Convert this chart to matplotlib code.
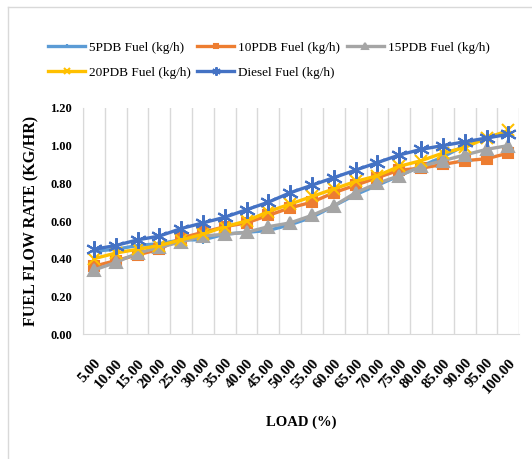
import numpy as np
import matplotlib
matplotlib.use("Agg")
import matplotlib.pyplot as plt
from matplotlib.lines import Line2D

# load categories (%)
load = [5, 10, 15, 20, 25, 30, 35, 40, 45, 50, 55, 60, 65, 70, 75, 80, 85, 90, 95, 100]
load_labels = [f"{v:.2f}" for v in load]

# fuel flow rate (kg/h)
pdb5 = [0.44, 0.45, 0.47, 0.48, 0.50, 0.50, 0.53, 0.54, 0.55, 0.58,
        0.62, 0.68, 0.74, 0.79, 0.84, 0.89, 0.94, 1.00, 1.04, 1.07]
pdb10 = [0.36, 0.39, 0.42, 0.45, 0.51, 0.54, 0.57, 0.59, 0.63, 0.67,
         0.70, 0.75, 0.79, 0.83, 0.87, 0.88, 0.90, 0.92, 0.93, 0.96]
pdb15 = [0.34, 0.38, 0.43, 0.46, 0.49, 0.52, 0.53, 0.54, 0.57, 0.59,
         0.63, 0.68, 0.75, 0.80, 0.84, 0.89, 0.92, 0.95, 0.98, 1.00]
pdb20 = [0.40, 0.43, 0.45, 0.47, 0.50, 0.53, 0.57, 0.60, 0.65, 0.69,
         0.73, 0.77, 0.81, 0.84, 0.89, 0.92, 0.96, 0.99, 1.04, 1.08]
diesel = [0.45, 0.47, 0.50, 0.52, 0.56, 0.59, 0.62, 0.66, 0.70, 0.75,
          0.79, 0.83, 0.87, 0.91, 0.95, 0.98, 1.00, 1.02, 1.04, 1.06]

series = [
    ("5PDB Fuel (kg/h)", pdb5, "#5B9BD5", "+", 6),
    ("10PDB Fuel (kg/h)", pdb10, "#ED7D31", "s", 7),
    ("15PDB Fuel (kg/h)", pdb15, "#A5A5A5", "^", 9),
    ("20PDB Fuel (kg/h)", pdb20, "#FFC000", "x", 8),
    ("Diesel Fuel (kg/h)", diesel, "#4472C4", (6, 2, 0), 12),
]

plt.rcParams["font.family"] = ["Liberation Serif", "DejaVu Serif"]

fig = plt.figure(figsize=(5.32, 4.59), dpi=100)
ax = fig.add_axes([0.156, 0.272, 0.82, 0.493])

x = np.arange(len(load))
handles = {}
for name, vals, color, marker, ms in series:
    h, = ax.plot(x, vals, color=color, lw=2.4, marker=marker, ms=ms,
                 mew=1.5, mec=color, mfc=color, label=name)
    handles[name] = h

ax.set_xlim(-0.5, len(load) - 0.5)
ax.set_ylim(0, 1.2)
ax.set_yticks(np.arange(0, 1.21, 0.2))
ax.set_yticklabels([f"{v:.2f}" for v in np.arange(0, 1.21, 0.2)],
                   fontsize=9, fontweight="bold")
ax.set_xticks(x)
ax.set_xticklabels(load_labels, rotation=48, ha="right", va="top",
                   rotation_mode="anchor", fontsize=11, fontweight="bold")
ax.tick_params(axis="x", length=0, pad=16)
ax.tick_params(axis="y", length=0, pad=8)

# vertical gridlines between categories
for b in np.arange(-0.5, len(load), 1.0):
    ax.axvline(b, color="#D9D9D9", lw=1, zorder=0)

for s in ["top", "right"]:
    ax.spines[s].set_visible(False)
ax.spines["left"].set_color("#D9D9D9")
ax.spines["bottom"].set_color("#D9D9D9")

ax.set_ylabel("FUEL FLOW RATE (KG/HR)", fontsize=11.5, fontweight="bold", labelpad=8)
ax.set_xlabel("LOAD (%)", fontsize=10.5, fontweight="bold", labelpad=14)

order = ["5PDB Fuel (kg/h)", "20PDB Fuel (kg/h)", "10PDB Fuel (kg/h)",
         "Diesel Fuel (kg/h)", "15PDB Fuel (kg/h)"]
leg = fig.legend([handles[n] for n in order], order, ncol=3, loc="upper left",
                 bbox_to_anchor=(0.068, 0.935), frameon=False, fontsize=9.5,
                 handlelength=2.8, handletextpad=0.3, columnspacing=0.5,
                 labelspacing=0.95, markerscale=0.5)

# outer chart border (only top and left visible in the crop)
fig.add_artist(Line2D([8 / 532, 8 / 532], [0, 1 - 7 / 459],
                      transform=fig.transFigure, color="#D9D9D9", lw=1))
fig.add_artist(Line2D([8 / 532, 1], [1 - 7 / 459, 1 - 7 / 459],
                      transform=fig.transFigure, color="#D9D9D9", lw=1))

fig.savefig("out.png", dpi=100)
